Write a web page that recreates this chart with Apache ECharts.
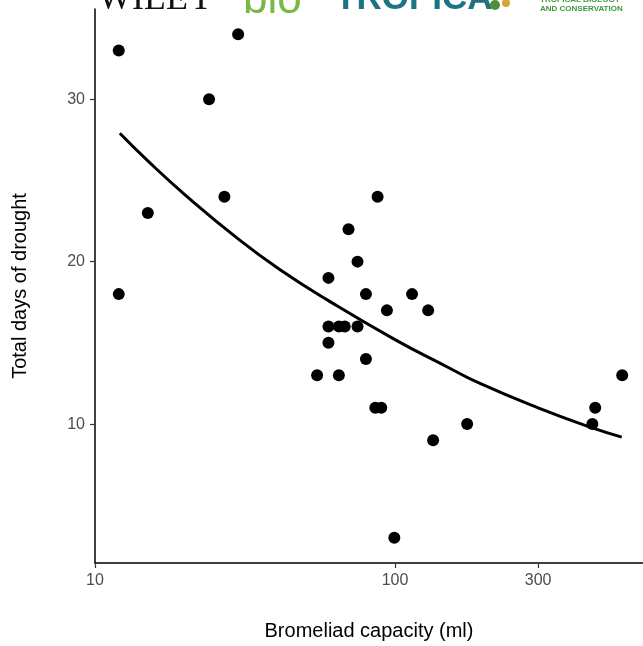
<!DOCTYPE html>
<html lang="en">
<head>
    <meta charset="UTF-8">
    <title>Bromeliad capacity vs drought</title>
    <style>
        html, body { margin: 0; padding: 0; background: #fff; }
    </style>
</head>
<body>
<script src="https://cdn.jsdelivr.net/npm/echarts@6/dist/echarts.min.js"></script>
<div id="main" style="width: 643px;height:646px;"></div>
<script type="text/javascript">
    // bromeliad capacity (ml) and total days of drought, one pair per bromeliad
    var capacity = [12, 12, 15, 24, 27, 30, 87.5, 70, 75, 60, 80, 114, 94, 129,
        60, 65, 68, 75, 60, 80, 55, 65, 86, 90, 174, 134, 99.5, 455, 465, 572];
    var drought = [33, 18, 23, 30, 24, 34, 24, 22, 20, 19, 18, 18, 17, 17,
        16, 16, 16, 16, 15, 14, 13, 13, 11, 11, 10, 9, 3, 10, 11, 13];

    // fitted curve
    var fitX = [12.1, 15, 20, 30, 41.4, 60, 100, 150, 192, 300, 450, 570];
    var fitY = [27.9, 26.2, 24.1, 21.4, 19.5, 17.6, 15.2, 13.5, 12.5, 11.0, 9.8, 9.2];

    var xTicks = [10, 100, 300];
    var yTicks = [10, 20, 30];

    var points = capacity.map(function (c, i) { return [c, drought[i]]; });
    var fit = fitX.map(function (c, i) { return [c, fitY[i]]; });

    var myChart = echarts.init(document.getElementById('main'));

    var axisFont = {color: '#4d4d4d', fontSize: 16, fontFamily: 'Liberation Sans, Arial, sans-serif'};
    var titleFont = {color: '#000', fontSize: 20, fontFamily: 'Liberation Sans, Arial, sans-serif'};

    var option = {
        animation: false,
        backgroundColor: '#fff',
        grid: {left: 95, right: 0, top: 9, bottom: 83, outerBoundsMode: 'none', containLabel: false},
        xAxis: {
            type: 'log',
            logBase: 10,
            min: 10,
            max: 671,
            name: 'Bromeliad capacity (ml)',
            nameLocation: 'middle',
            nameGap: 58,
            nameTextStyle: titleFont,
            axisLine: {lineStyle: {color: '#000', width: 1.5}},
            axisTick: {show: true, length: 5, lineStyle: {color: '#333', width: 1.2}, customValues: xTicks},
            axisLabel: Object.assign({margin: 10, customValues: xTicks}, axisFont),
            splitLine: {show: false},
            minorTick: {show: false}
        },
        yAxis: {
            type: 'value',
            min: 1.45,
            max: 35.55,
            name: 'Total days of drought',
            nameLocation: 'middle',
            nameGap: 65,
            nameRotate: 90,
            nameTextStyle: titleFont,
            axisLine: {show: true, lineStyle: {color: '#000', width: 1.5}},
            axisTick: {show: true, length: 5, lineStyle: {color: '#333', width: 1.2}, customValues: yTicks},
            axisLabel: Object.assign({margin: 10, customValues: yTicks}, axisFont),
            splitLine: {show: false}
        },
        graphic: [
            {type: 'text', left: 98, top: -18, style: {text: 'WILEY', fill: '#111', font: '36px "Liberation Serif", serif'}},
            {type: 'text', left: 243, top: -21, style: {text: 'bio', fill: '#7ab648', font: '44px "Liberation Sans", sans-serif'}},
            {type: 'text', left: 335, top: -18, style: {text: 'TROPICA', fill: '#1d7383', font: 'bold 35px "Liberation Sans", sans-serif'}},
            {type: 'text', left: 540, top: -4, style: {text: 'TROPICAL BIOLOGY', fill: '#3c9a3c', font: 'bold 8px "Liberation Sans", sans-serif'}},
            {type: 'text', left: 540, top: 5, style: {text: 'AND CONSERVATION', fill: '#3c9a3c', font: 'bold 8px "Liberation Sans", sans-serif'}},
            {type: 'circle', shape: {cx: 495, cy: 5, r: 5}, style: {fill: '#4f8f3a'}},
            {type: 'circle', shape: {cx: 506, cy: 3, r: 4}, style: {fill: '#d9a23a'}}
        ],
        series: [
            {
                name: 'fit',
                type: 'line',
                data: fit,
                smooth: true,
                showSymbol: false,
                lineStyle: {color: '#000', width: 3},
                z: 2
            },
            {
                name: 'bromeliads',
                type: 'scatter',
                data: points,
                symbol: 'circle',
                symbolSize: 12,
                itemStyle: {color: '#000', opacity: 1},
                z: 3
            }
        ]
    };

    myChart.setOption(option);
</script>
</body>
</html>
